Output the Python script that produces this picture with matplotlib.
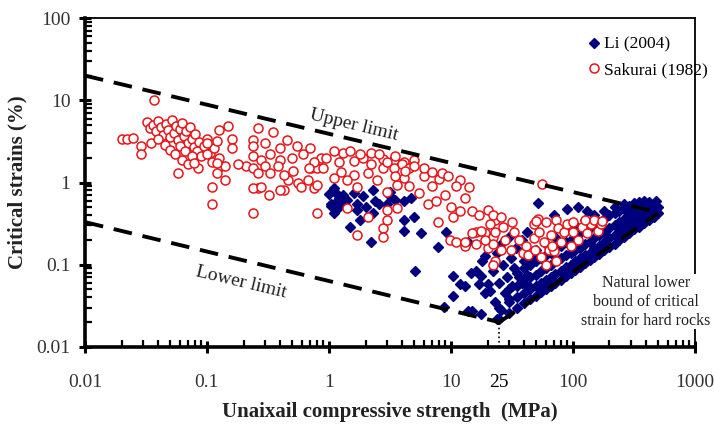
import matplotlib
matplotlib.use("Agg")
import matplotlib.pyplot as plt

plt.rcParams["font.family"] = ["Liberation Serif", "DejaVu Serif"]

# =========================
# data
# =========================
# Li (2004): UCS (MPa), critical strain (%)
li_pts = [
    # mid range
    (1.05, 0.55), (1.2, 0.65), (1.1, 0.42), (1.3, 0.57), (1.5, 0.29), (1.8, 0.35),
    (1.7, 0.55), (2.2, 0.19), (2.3, 0.42), (3.0, 0.55), (3.2, 0.69), (4.1, 0.26),
    (5.7, 0.24), (4.7, 0.65), (5.0, 0.38), (7.8, 0.165), (5.1, 0.085), (9.2, 0.25),
    (1.15, 0.75), (1.05, 0.52), (1.3, 0.6), (1.7, 0.46), (2.4, 0.6), (3.2, 0.77),
    (4.1, 0.35), (4.1, 0.6), (1.0, 0.72), (1.1, 0.85), (1.2, 0.5), (1.3, 0.7),
    (1.4, 0.62), (1.6, 0.75), (1.9, 0.68), (2.3, 0.8), (2.6, 0.55), (2.0, 0.5),
    (3.5, 0.62), (1.15, 0.58),
    # lower-left scatter
    (10.5, 0.072), (12, 0.058), (10.5, 0.042), (8.8, 0.031), (13.8, 0.027),
    (16, 0.085), (19, 0.129), (17.6, 0.072), (20, 0.058), (17.6, 0.025), (22, 0.085),
    (21, 0.048), (13.8, 0.19), (18, 0.11), (14.6, 0.08), (13, 0.055), (17, 0.058),
    (19, 0.045), (15, 0.027), (24, 0.022), (23, 0.035), (26, 0.028), (25, 0.06),
    (27, 0.1), (28, 0.045), (30, 0.038), (29, 0.07), (32, 0.055), (24, 0.14),
    (26, 0.18), (31, 0.12), (33, 0.09), (36, 0.07), (38, 0.06), (30, 0.22),
    (34, 0.16), (40, 0.11), (42, 0.075), (44, 0.055), (46, 0.13), (38, 0.2),
    (42, 0.25), (52, 0.56), (90, 0.48), (70, 0.4), (130, 0.45), (110, 0.5),
    # dense band
    (25, 0.022), (25, 0.03), (30, 0.026), (30, 0.035), (30, 0.05),
    (35, 0.03), (35, 0.04), (35, 0.055), (35, 0.08),
    (40, 0.034), (40, 0.045), (40, 0.06), (40, 0.09), (40, 0.13),
    (45, 0.038), (45, 0.05), (45, 0.07), (45, 0.1),
    (50, 0.042), (50, 0.055), (50, 0.075), (50, 0.11), (50, 0.15),
    (55, 0.046), (55, 0.06), (55, 0.085), (55, 0.12),
    (60, 0.05), (60, 0.065), (60, 0.09), (60, 0.13), (60, 0.18),
    (66, 0.055), (66, 0.07), (66, 0.1), (66, 0.14),
    (72, 0.06), (72, 0.078), (72, 0.11), (72, 0.16), (72, 0.22),
    (80, 0.066), (80, 0.085), (80, 0.12), (80, 0.17),
    (88, 0.072), (88, 0.095), (88, 0.13), (88, 0.19), (88, 0.26),
    (96, 0.08), (96, 0.1), (96, 0.14), (96, 0.2),
    (105, 0.087), (105, 0.11), (105, 0.15), (105, 0.22), (105, 0.3),
    (115, 0.095), (115, 0.12), (115, 0.16), (115, 0.24),
    (125, 0.104), (125, 0.13), (125, 0.18), (125, 0.26), (125, 0.35),
    (138, 0.114), (138, 0.14), (138, 0.19), (138, 0.28),
    (150, 0.125), (150, 0.16), (150, 0.21), (150, 0.3), (150, 0.4),
    (165, 0.135), (165, 0.17), (165, 0.23), (165, 0.33),
    (180, 0.15), (180, 0.19), (180, 0.25), (180, 0.36), (180, 0.45),
    (200, 0.165), (200, 0.21), (200, 0.28), (200, 0.4),
    (220, 0.18), (220, 0.23), (220, 0.3), (220, 0.42), (220, 0.5),
    (240, 0.2), (240, 0.25), (240, 0.33), (240, 0.45),
    (265, 0.22), (265, 0.28), (265, 0.36), (265, 0.48), (265, 0.55),
    (290, 0.24), (290, 0.3), (290, 0.4), (290, 0.52),
    (320, 0.27), (320, 0.34), (320, 0.44), (320, 0.56),
    (350, 0.29), (350, 0.37), (350, 0.47), (350, 0.58),
    (385, 0.32), (385, 0.4), (385, 0.5), (385, 0.6),
    (420, 0.35), (420, 0.43), (420, 0.52), (420, 0.58),
    (460, 0.38), (460, 0.46), (460, 0.55), (500, 0.42), (500, 0.5), (480, 0.6),
]

# Sakurai (1982)
sakurai_pts = [
    (0.020, 3.4), (0.022, 3.4), (0.025, 3.5), (0.029, 2.8), (0.029, 2.2), (0.037, 10),
    (0.032, 5.5), (0.034, 4.6), (0.036, 5.0), (0.038, 4.2), (0.040, 5.6), (0.042, 4.8),
    (0.044, 3.8), (0.046, 5.2), (0.048, 4.4), (0.050, 3.6), (0.052, 5.8), (0.054, 4.0),
    (0.056, 4.9), (0.058, 3.3), (0.060, 4.5), (0.063, 5.3), (0.065, 3.7), (0.068, 4.2),
    (0.070, 3.0), (0.072, 4.8), (0.075, 3.4), (0.078, 2.7), (0.080, 3.9), (0.083, 2.4),
    (0.086, 3.1), (0.090, 2.1), (0.095, 2.8), (0.10, 3.4), (0.105, 2.3), (0.11, 1.8),
    (0.115, 2.6), (0.12, 3.2), (0.125, 2.0), (0.13, 1.6), (0.035, 3.0), (0.040, 3.4),
    (0.045, 2.9), (0.050, 2.5), (0.055, 2.2), (0.060, 2.8), (0.062, 1.9), (0.066, 2.4),
    (0.070, 1.7), (0.075, 2.1), (0.085, 1.5), (0.058, 1.3), (0.11, 0.87), (0.11, 0.55),
    (0.125, 4.4), (0.15, 4.9), (0.26, 4.6), (0.16, 3.4), (0.16, 2.6), (0.24, 3.25),
    (0.24, 2.8), (0.24, 2.1), (0.21, 1.6), (0.24, 1.5), (0.26, 0.85), (0.18, 1.7),
    (0.14, 1.6), (0.12, 1.3), (0.14, 1.06), (0.12, 1.75), (0.10, 2.25), (0.078, 1.75),
    (0.10, 3.0), (0.24, 0.42), (0.24, 0.85), (0.28, 0.87), (0.32, 0.70),
    (0.43, 0.80), (0.46, 1.06), (0.56, 0.98), (0.67, 1.06), (0.75, 0.85), (0.71, 1.5),
    (0.80, 1.5), (0.35, 4.1), (0.30, 3.0), (0.61, 2.2), (0.86, 2.0), (0.95, 2.0),
    (0.40, 2.6), (0.45, 3.3), (0.50, 2.0), (0.55, 2.8), (0.70, 2.6), (0.75, 1.8),
    (0.40, 1.9), (0.33, 2.2), (0.28, 1.9), (0.30, 1.6), (0.38, 1.6),
    (1.2, 1.8), (1.6, 1.85), (1.9, 2.0), (2.2, 1.7), (2.8, 1.95), (3.4, 1.9),
    (4.1, 1.8), (2.8, 1.5), (3.4, 1.5), (2.1, 1.3), (1.6, 1.22), (1.25, 1.35),
    (0.9, 1.5), (0.69, 1.5), (0.51, 1.4), (0.43, 1.22), (0.33, 1.3), (0.26, 1.3),
    (0.40, 0.80), (0.59, 0.87), (0.80, 0.92), (1.1, 1.15), (1.4, 1.06), (0.80, 0.43),
    (1.7, 0.87), (2.5, 1.06), (3.0, 0.77), (3.6, 0.92), (4.1, 1.15), (1.4, 0.49),
    (2.1, 0.38), (2.8, 0.28), (1.7, 0.23), (2.8, 0.22), (3.0, 0.46), (3.6, 0.49),
    (1.1, 2.4), (1.3, 2.3), (1.5, 2.4), (1.8, 2.2), (2.2, 2.3), (2.6, 2.2),
    (3.0, 1.8), (3.5, 2.1), (4.0, 1.7), (4.5, 1.5), (5.0, 1.9),
    (5.0, 1.6), (6.0, 1.2), (7.0, 0.9), (8.0, 1.1), (5.5, 0.75), (6.5, 0.55),
    (9.0, 0.7), (4.5, 0.9), (7.5, 0.6), (10, 0.5), (6.0, 1.5), (8.5, 1.3),
    (4.2, 1.4), (3.5, 1.2), (9.5, 1.2), (7.0, 1.35), (3.0, 0.35), (7.8, 0.33),
    (9.8, 0.20), (11, 0.19), (13, 0.17), (16, 0.25), (19, 0.24), (10.5, 0.38),
    (14, 0.87), (12, 1.06), (20, 0.46), (23, 0.35), (22, 0.22), (20, 0.16),
    (11, 0.9), (13, 0.65), (15, 0.45), (17, 0.4), (12, 0.45), (56, 0.96),
    (22, 0.40), (21, 0.31), (26, 0.38), (23, 0.25), (27, 0.29), (32, 0.33),
    (33, 0.25), (28, 0.20), (22, 0.18), (23, 0.11), (22, 0.10), (26, 0.15),
    (31, 0.15), (36, 0.20), (39, 0.14), (41, 0.17), (48, 0.21), (48, 0.31),
    (52, 0.36), (50, 0.34), (60, 0.33), (53, 0.25), (58, 0.19), (64, 0.15),
    (66, 0.23), (73, 0.35), (76, 0.28), (80, 0.19), (84, 0.25), (90, 0.31),
    (100, 0.33), (100, 0.25), (110, 0.20), (120, 0.29), (130, 0.24), (140, 0.31),
    (150, 0.35), (160, 0.26), (170, 0.31), (175, 0.34), (125, 0.35), (43, 0.13),
    (49, 0.15), (55, 0.125), (70, 0.148), (73, 0.11), (60, 0.10), (68, 0.17),
    (96, 0.17), (13, 0.19), (15, 0.24), (16, 0.18), (17.6, 0.26), (19, 0.20),
]

li_ucs = [p[0] for p in li_pts]
li_strain = [p[1] for p in li_pts]
sak_ucs = [p[0] for p in sakurai_pts]
sak_strain = [p[1] for p in sakurai_pts]

# bounding lines
upper_x = [0.01, 450]
upper_y = [20, 0.45]
lower_x = [0.01, 25]
lower_y = [0.33, 0.02]
natural_x = [25, 500]
natural_y = [0.02, 0.42]

x_ticks = [0.01, 0.1, 1, 10, 25, 100, 1000]
x_labels = ["0.01", "0.1", "1", "10", "25", "100", "1000"]
y_ticks = [0.01, 0.1, 1, 10, 100]
y_labels = ["0.01", "0.1", "1", "10", "100"]

# =========================
# plot
# =========================
fig = plt.figure(figsize=(7.14, 4.32), dpi=100)
ax = fig.add_axes([0.119, 0.197, 0.854, 0.761])

ax.set_xscale("log")
ax.set_yscale("log")
ax.set_xlim(0.01, 1000)
ax.set_ylim(0.01, 100)

navy = "#00007f"
ax.plot(li_ucs, li_strain, "D", color=navy, ms=5, mec=navy, label="Li (2004)", zorder=3)
ax.plot(sak_ucs, sak_strain, "o", mfc="white", mec="#e8141a", mew=1.1, ms=6.5,
        label="Sakurai (1982)", zorder=4)

dash = dict(color="black", lw=2.8, dashes=(4.8, 2.8), zorder=5)
ax.plot(upper_x, upper_y, **dash)
ax.plot(lower_x, lower_y, **dash)
ax.plot(natural_x, natural_y, **dash)
ax.plot([25, 25], [0.01, 0.02], color="black", lw=1.2, ls=":", zorder=5)

ax.text(1.6, 5.0, "Upper limit", fontsize=14, rotation=-13.5,
        ha="center", va="center", color="#222222")
ax.text(0.19, 0.06, "Lower limit", fontsize=14, rotation=-13.5,
        ha="center", va="center", color="#222222")
ax.text(0.92, 0.137, "Natural lower\nbound of critical\nstrain for hard rocks",
        transform=ax.transAxes, fontsize=11.5, ha="center", va="center",
        linespacing=1.25, color="#222222", zorder=6,
        bbox=dict(facecolor="white", edgecolor="none", pad=0.5))

ax.set_xticks(x_ticks)
ax.set_xticklabels(x_labels)
ax.set_yticks(y_ticks)
ax.set_yticklabels(y_labels)
ax.tick_params(which="major", direction="inout", length=9, width=2.2,
               labelsize=14, labelcolor="#333333")
ax.tick_params(axis="x", which="major", pad=15)
ax.tick_params(axis="y", which="major", pad=6)
ax.tick_params(which="minor", direction="in", length=5, width=1.6)
ax.xaxis.get_major_ticks()[4].tick1line.set_visible(False)
ax.xaxis.get_ticklabels()[4].set_color("black")

for side in ["left", "bottom"]:
    ax.spines[side].set_linewidth(2.6)
for side in ["top", "right"]:
    ax.spines[side].set_linewidth(1.3)

ax.set_xlabel("Unaixail compressive strength  (MPa)", fontsize=15,
              fontweight="bold", color="#222222", labelpad=8)
ax.set_ylabel("Critical strains (%)", fontsize=15, fontweight="bold",
              color="#222222", labelpad=6)

ax.legend(loc="upper left", bbox_to_anchor=(0.815, 0.965), frameon=False,
          fontsize=12.5, handlelength=0.6, handletextpad=0.3, labelspacing=0.55,
          borderaxespad=0)

fig.savefig("out.png", dpi=100)
